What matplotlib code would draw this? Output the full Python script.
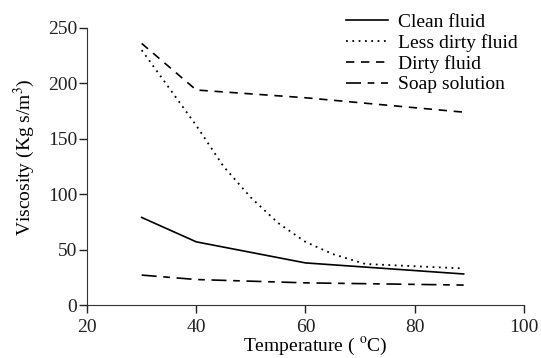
import matplotlib.pyplot as plt

plt.rcParams['font.family'] = ['Liberation Serif', 'DejaVu Serif']
plt.rcParams['mathtext.fontset'] = 'stix'

# --- Dados ---
temp_clean = [30, 40, 60, 89]
visc_clean = [79, 57, 38, 28]

temp_less = [30, 40, 45, 50, 55, 60, 65, 71, 89]
visc_less = [230, 162, 125, 97, 74, 57, 46, 37, 33]

temp_dirty = [30, 40, 60, 89]
visc_dirty = [236, 194, 187, 174]

temp_soap = [30, 40, 60, 89]
visc_soap = [27, 23, 20, 18]

# --- Gráfico ---
fig = plt.figure(figsize=(5.41, 3.58), dpi=100)
ax = fig.add_axes([0.161, 0.148, 0.807, 0.774])

ax.plot(temp_clean, visc_clean, color='black', lw=1.2, linestyle='-', label='Clean fluid')
ax.plot(temp_less, visc_less, color='black', lw=1.3, linestyle=(0, (1, 2.5)), label='Less dirty fluid')
ax.plot(temp_dirty, visc_dirty, color='black', lw=1.2, linestyle=(0, (5, 4)), label='Dirty fluid')
ax.plot(temp_soap, visc_soap, color='black', lw=1.2, linestyle=(0, (9, 4, 4, 4)), label='Soap solution')

ax.set_xlim(20, 100)
ax.set_ylim(0, 250)
ax.set_xticks([20, 40, 60, 80, 100])
ax.set_yticks([0, 50, 100, 150, 200, 250])
ax.spines['top'].set_visible(False)
ax.spines['right'].set_visible(False)
ax.spines['left'].set_color('#333333')
ax.spines['bottom'].set_color('#333333')
ax.tick_params(direction='out', length=6, width=1, labelsize=14, colors='#222222')
ax.tick_params(axis='y', pad=1)
ax.tick_params(axis='x', pad=4)

ax.set_xlabel('Temperature ( $^{\\mathrm{o}}$C)', fontsize=14)
ax.set_ylabel('Viscosity (Kg s/m$^{3}$)', fontsize=14)
ax.xaxis.set_label_coords(0.523, -0.11)
ax.yaxis.set_label_coords(-0.114, 0.532)

fig.legend(loc='upper left', bbox_to_anchor=(0.615, 1.0), frameon=False,
           fontsize=14, handlelength=2.15, handletextpad=0.5,
           labelspacing=0.15, borderpad=0.2)

fig.savefig('out.png', dpi=100)
